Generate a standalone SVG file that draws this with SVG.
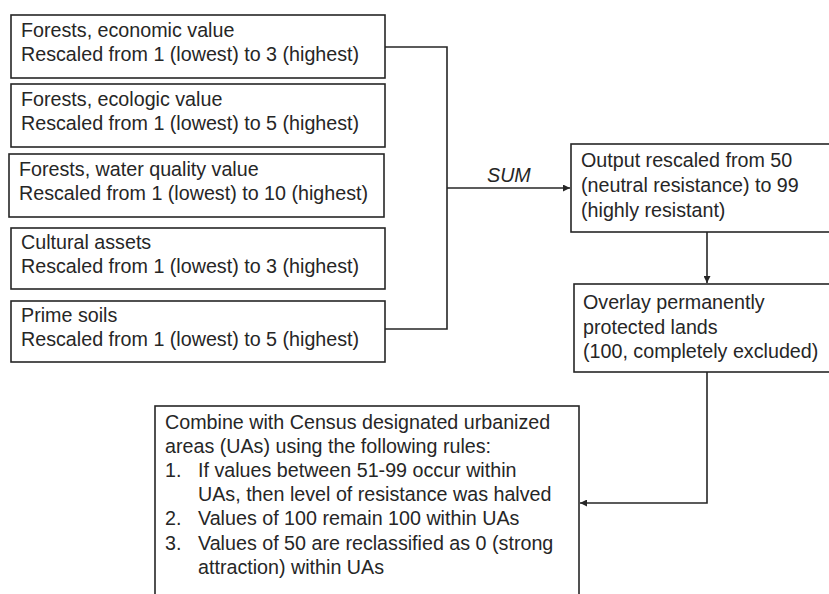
<svg xmlns="http://www.w3.org/2000/svg" width="829" height="594" viewBox="0 0 829 594">
<style>
.box{fill:#fff;stroke:#262626;stroke-width:1.6}
.t{font-family:"Liberation Sans",Arial,sans-serif;font-size:19.7px;fill:#262626}
.sum{font-family:"Liberation Sans",Arial,sans-serif;font-size:19.7px;font-style:italic;fill:#262626}
.c{fill:none;stroke:#262626;stroke-width:1.6}
</style>
<defs>
<marker id="ah" viewBox="0 0 10 10" refX="10" refY="5" markerWidth="7" markerHeight="7" markerUnits="userSpaceOnUse" orient="auto">
<path d="M0,0 L10,5 L0,10 z" fill="#262626"/>
</marker>
</defs>
<rect width="829" height="594" fill="#fff"/>
<g id="connectors">
<path class="c" d="M385,47 H447 V329 H385"/>
<path class="c" d="M447,188 H570" marker-end="url(#ah)"/>
<path class="c" d="M707,232 V283" marker-end="url(#ah)"/>
<path class="c" d="M707,372 V503 H580" marker-end="url(#ah)"/>
<text class="sum" x="487" y="182">SUM</text>
</g>
<g id="n1"><rect class="box" x="11" y="15" width="374" height="63"/>
<text class="t" x="21" y="37">Forests, economic value</text>
<text class="t" x="21" y="61">Rescaled from 1 (lowest) to 3 (highest)</text></g>
<g id="n2"><rect class="box" x="11" y="84" width="374" height="63"/>
<text class="t" x="21" y="106">Forests, ecologic value</text>
<text class="t" x="21" y="130">Rescaled from 1 (lowest) to 5 (highest)</text></g>
<g id="n3"><rect class="box" x="9" y="154" width="375" height="63"/>
<text class="t" x="19" y="176">Forests, water quality value</text>
<text class="t" x="19" y="200">Rescaled from 1 (lowest) to 10 (highest)</text></g>
<g id="n4"><rect class="box" x="11" y="228" width="374" height="61"/>
<text class="t" x="21" y="249">Cultural assets</text>
<text class="t" x="21" y="273">Rescaled from 1 (lowest) to 3 (highest)</text></g>
<g id="n5"><rect class="box" x="11" y="301" width="374" height="61"/>
<text class="t" x="21" y="322">Prime soils</text>
<text class="t" x="21" y="346">Rescaled from 1 (lowest) to 5 (highest)</text></g>
<g id="n6"><rect class="box" x="571" y="144" width="270" height="88"/>
<text class="t" x="581" y="167">Output rescaled from 50</text>
<text class="t" x="581" y="192">(neutral resistance) to 99</text>
<text class="t" x="581" y="217">(highly resistant)</text></g>
<g id="n7"><rect class="box" x="574" y="284" width="270" height="88"/>
<text class="t" x="583" y="309">Overlay permanently</text>
<text class="t" x="583" y="334">protected lands</text>
<text class="t" x="583" y="358">(100, completely excluded)</text></g>
<g id="n8"><rect class="box" x="155" y="406" width="424" height="200"/>
<text class="t" x="165" y="429">Combine with Census designated urbanized</text>
<text class="t" x="165" y="453">areas (UAs)  using the following rules:</text>
<text class="t" x="165" y="477">1.</text>
<text class="t" x="198" y="477">If values between 51-99 occur within</text>
<text class="t" x="198" y="501">UAs, then level of resistance was halved</text>
<text class="t" x="165" y="525">2.</text>
<text class="t" x="198" y="525">Values of 100 remain 100 within UAs</text>
<text class="t" x="165" y="550">3.</text>
<text class="t" x="198" y="550">Values of 50 are reclassified as 0 (strong</text>
<text class="t" x="198" y="574">attraction) within UAs</text></g>
</svg>
